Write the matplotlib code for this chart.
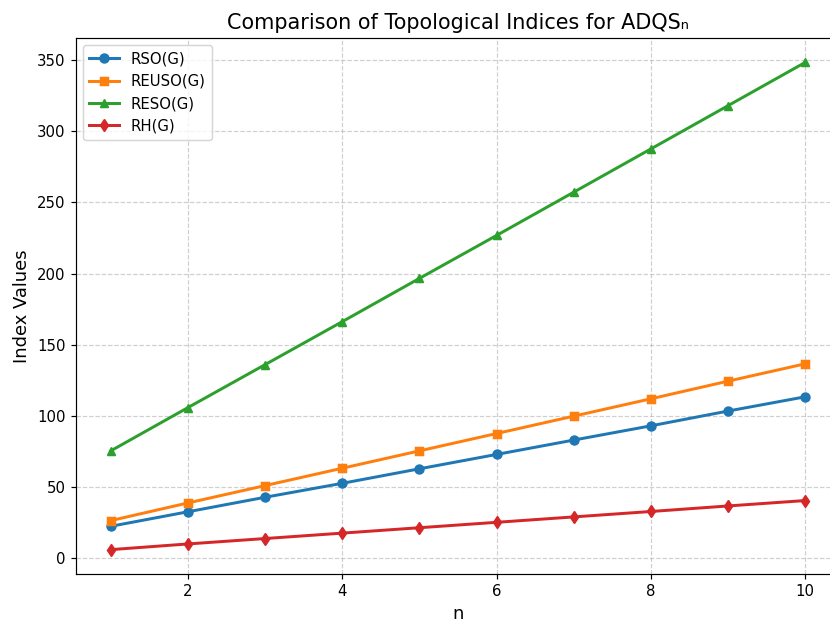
import matplotlib.pyplot as plt
import numpy as np

n = np.arange(1, 11)

rso = [22.4, 32.6, 42.8, 52.6, 62.8, 72.9, 83.0, 93.0, 103.4, 113.4]
reuso = [26.4, 38.8, 51.0, 63.2, 75.4, 87.6, 99.8, 112.0, 124.4, 136.6]
reso = [75.4, 105.8, 136.0, 166.2, 196.6, 226.8, 257.2, 287.6, 318.0, 348.4]
rh = [6.0, 10.0, 13.8, 17.6, 21.4, 25.2, 29.0, 32.8, 36.7, 40.5]

dpi = 107
fig = plt.figure(figsize=(830/dpi, 622/dpi), dpi=dpi)
ax = fig.add_axes([76/830, 1 - 574/622, (840 - 76)/830, (574 - 38)/622])

ax.plot(n, rso, marker='o', linewidth=2, markersize=6, label='RSO(G)')
ax.plot(n, reuso, marker='s', linewidth=2, markersize=6, label='REUSO(G)')
ax.plot(n, reso, marker='^', linewidth=2, markersize=6, label='RESO(G)')
ax.plot(n, rh, marker='d', linewidth=2, markersize=6, label='RH(G)')

ax.set_title('Comparison of Topological Indices for ADQSₙ', fontsize=14)
ax.set_xlabel('n', fontsize=12)
ax.set_ylabel('Index Values', fontsize=12)
ax.grid(True, linestyle='--', alpha=0.6)
ax.legend(loc='upper left')

fig.savefig('out.png', dpi=dpi)
